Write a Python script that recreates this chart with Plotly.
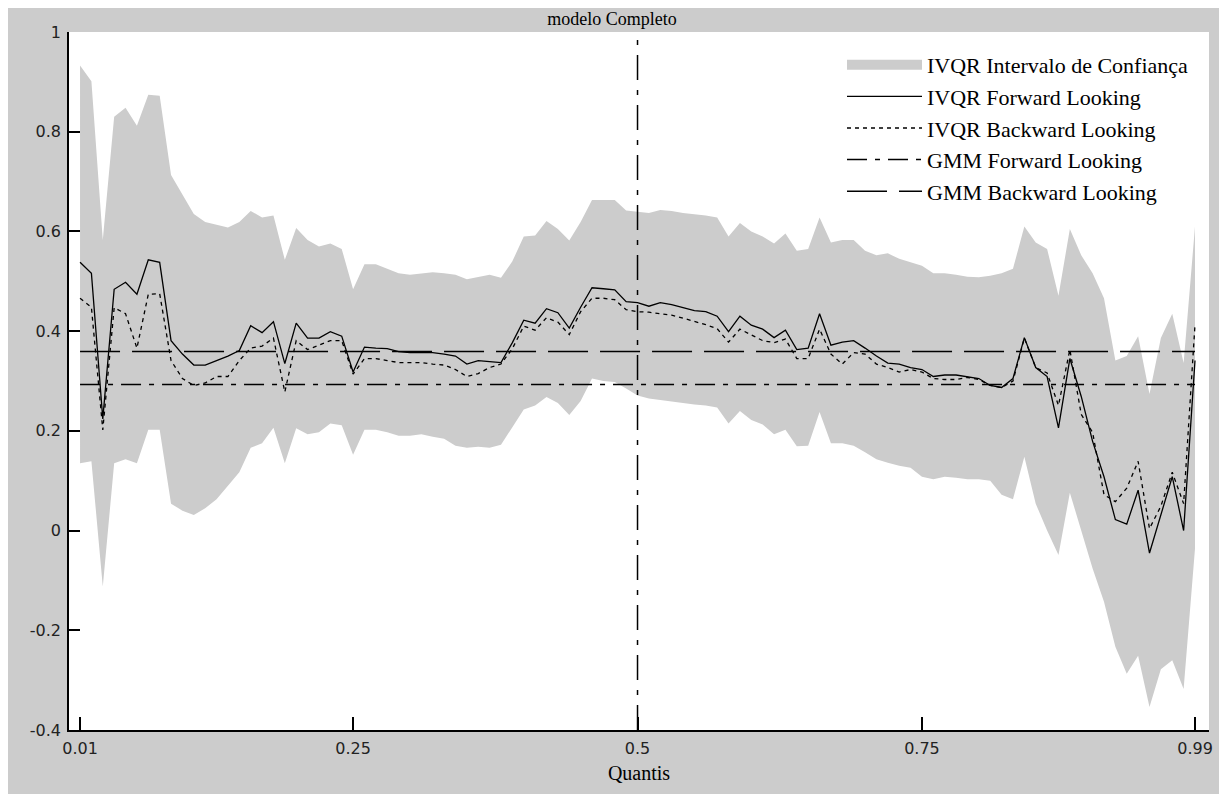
import plotly.graph_objects as go

quantis = [round(0.01 * i, 2) for i in range(1, 100)]

ic_superior = [
    0.933, 0.901, 0.583, 0.830, 0.848, 0.812, 0.874, 0.872, 0.713, 0.673,
    0.635, 0.619, 0.613, 0.608, 0.619, 0.641, 0.628, 0.632, 0.543, 0.607,
    0.583, 0.570, 0.576, 0.565, 0.484, 0.534, 0.534, 0.525, 0.516, 0.513,
    0.516, 0.518, 0.516, 0.513, 0.504, 0.509, 0.513, 0.507, 0.540, 0.590,
    0.592, 0.621, 0.605, 0.582, 0.619, 0.663, 0.663, 0.663, 0.642, 0.639,
    0.637, 0.643, 0.641, 0.637, 0.635, 0.632, 0.628, 0.590, 0.617, 0.600,
    0.590, 0.576, 0.596, 0.561, 0.565, 0.628, 0.578, 0.583, 0.583, 0.561,
    0.552, 0.556, 0.545, 0.538, 0.531, 0.516, 0.516, 0.513, 0.509, 0.508,
    0.511, 0.516, 0.525, 0.610, 0.578, 0.565, 0.471, 0.605, 0.552, 0.516,
    0.466, 0.341, 0.350, 0.390, 0.274, 0.386, 0.435, 0.336, 0.610,
]

ic_inferior = [
    0.135, 0.139, -0.112, 0.135, 0.143, 0.135, 0.202, 0.202, 0.054, 0.040,
    0.031, 0.045, 0.063, 0.090, 0.117, 0.166, 0.175, 0.206, 0.135, 0.205,
    0.193, 0.197, 0.215, 0.211, 0.152, 0.202, 0.202, 0.197, 0.190, 0.190,
    0.193, 0.188, 0.184, 0.170, 0.166, 0.168, 0.166, 0.172, 0.208, 0.243,
    0.251, 0.268, 0.256, 0.232, 0.260, 0.305, 0.300, 0.298, 0.285, 0.271,
    0.265, 0.262, 0.258, 0.256, 0.253, 0.251, 0.247, 0.215, 0.240, 0.222,
    0.213, 0.193, 0.202, 0.169, 0.170, 0.238, 0.175, 0.175, 0.170, 0.157,
    0.143, 0.136, 0.130, 0.126, 0.108, 0.103, 0.108, 0.106, 0.103, 0.103,
    0.100, 0.072, 0.063, 0.148, 0.054, 0.000, -0.049, 0.076, 0.000, -0.076,
    -0.143, -0.233, -0.287, -0.251, -0.354, -0.278, -0.260, -0.318, -0.036,
]

ivqr_forward = [
    0.538, 0.516, 0.224, 0.484, 0.498, 0.474, 0.543, 0.538, 0.381, 0.354,
    0.332, 0.332, 0.341, 0.350, 0.361, 0.411, 0.397, 0.419, 0.335, 0.416,
    0.386, 0.386, 0.399, 0.390, 0.318, 0.368, 0.366, 0.365, 0.359, 0.357,
    0.357, 0.357, 0.354, 0.350, 0.334, 0.341, 0.339, 0.337, 0.377, 0.422,
    0.416, 0.445, 0.437, 0.406, 0.448, 0.487, 0.485, 0.483, 0.459, 0.457,
    0.450, 0.457, 0.453, 0.447, 0.441, 0.439, 0.430, 0.399, 0.430, 0.412,
    0.404, 0.387, 0.402, 0.363, 0.366, 0.435, 0.372, 0.378, 0.381, 0.366,
    0.350, 0.336, 0.334, 0.327, 0.323, 0.309, 0.312, 0.312, 0.309, 0.305,
    0.291, 0.287, 0.305, 0.387, 0.327, 0.309, 0.206, 0.345, 0.269, 0.179,
    0.108, 0.022, 0.013, 0.081, -0.045, 0.031, 0.108, 0.000, 0.341,
]

ivqr_backward = [
    0.466, 0.448, 0.202, 0.447, 0.435, 0.366, 0.474, 0.475, 0.341, 0.305,
    0.291, 0.296, 0.309, 0.309, 0.341, 0.366, 0.370, 0.386, 0.278, 0.381,
    0.363, 0.372, 0.381, 0.381, 0.314, 0.345, 0.345, 0.341, 0.337, 0.337,
    0.337, 0.334, 0.332, 0.323, 0.309, 0.315, 0.327, 0.334, 0.365, 0.410,
    0.402, 0.427, 0.418, 0.393, 0.439, 0.466, 0.466, 0.463, 0.443, 0.439,
    0.438, 0.435, 0.432, 0.426, 0.420, 0.413, 0.405, 0.378, 0.404, 0.392,
    0.381, 0.377, 0.384, 0.345, 0.345, 0.404, 0.354, 0.334, 0.357, 0.354,
    0.334, 0.327, 0.318, 0.323, 0.318, 0.305, 0.303, 0.303, 0.307, 0.303,
    0.291, 0.287, 0.300, 0.386, 0.327, 0.316, 0.251, 0.363, 0.233, 0.197,
    0.072, 0.058, 0.085, 0.139, 0.004, 0.049, 0.117, 0.054, 0.413,
]

gmm_forward = 0.293
gmm_backward = 0.359
mediana = 0.5

x_ticks = [0.01, 0.25, 0.5, 0.75, 0.99]
x_ticktext = ["0.01", "0.25", "0.5", "0.75", "0.99"]
y_ticks = [-0.4, -0.2, 0, 0.2, 0.4, 0.6, 0.8, 1]
y_ticktext = ["-0.4", "-0.2", "0", "0.2", "0.4", "0.6", "0.8", "1"]

BAND = "#cccccc"
SERIF = "Liberation Serif, Times New Roman, serif"
SANS = "DejaVu Sans, Verdana, sans-serif"

# page body has an 8px margin, so the figure sits at (8, 8) in the window
W, H = 1219, 786
ML, MR, MT, MB = 61, 18, 24, 64
PW, PH = W - ML - MR, H - MT - MB

fig = go.Figure()
fig.add_trace(go.Scatter(x=quantis, y=ic_inferior, mode="lines",
                         line=dict(width=0, color=BAND), showlegend=False,
                         hoverinfo="skip"))
fig.add_trace(go.Scatter(x=quantis, y=ic_superior, mode="lines", fill="tonexty",
                         fillcolor=BAND, line=dict(width=0, color=BAND),
                         name="IVQR Intervalo de Confiança", showlegend=False,
                         legendgroup="ic"))
# legend swatch for the confidence band (no data points)
fig.add_trace(go.Scatter(x=[None], y=[None], mode="lines",
                         line=dict(width=20, color=BAND),
                         name="IVQR Intervalo de Confiança", legendgroup="ic"))
fig.add_trace(go.Scatter(x=quantis, y=ivqr_forward, mode="lines",
                         line=dict(color="black", width=1.3),
                         name="IVQR Forward Looking"))
fig.add_trace(go.Scatter(x=quantis, y=ivqr_backward, mode="lines",
                         line=dict(color="black", width=1.3, dash="4px,4px"),
                         name="IVQR Backward Looking"))
fig.add_trace(go.Scatter(x=quantis, y=[gmm_forward] * len(quantis), mode="lines",
                         line=dict(color="black", width=1.5, dash="20px,8px,5px,8px"),
                         name="GMM Forward Looking"))
fig.add_trace(go.Scatter(x=quantis, y=[gmm_backward] * len(quantis), mode="lines",
                         line=dict(color="black", width=1.5, dash="40px,12px"),
                         name="GMM Backward Looking"))

fig.add_vline(x=mediana, line=dict(color="black", width=1.5, dash="25px,10px,5px,10px"))

fig.update_layout(
    width=W, height=H,
    margin=dict(l=ML, r=MR, t=MT, b=MB, pad=0),
    paper_bgcolor=BAND, plot_bgcolor="white",
    title=dict(text="modelo Completo", x=604 / W, xanchor="center",
               yref="container", y=1 - 11 / H, yanchor="middle", pad=dict(t=0, b=0),
               font=dict(family=SERIF, size=18, color="black")),
    showlegend=True,
    legend=dict(x=(834 - ML) / PW, xanchor="left", y=(H - MB - 36) / PH, yanchor="top",
                bgcolor="white", borderwidth=0, itemwidth=75, traceorder="normal",
                font=dict(family=SERIF, size=22, color="black")),
    xaxis=dict(range=[0.0003, 1.0023], tickvals=x_ticks, ticktext=x_ticktext,
               ticks="inside", ticklen=13, tickwidth=1.5, tickcolor="black",
               showline=True, linecolor="black", linewidth=1.5,
               showgrid=False, zeroline=False, ticklabelstandoff=3,
               tickfont=dict(family=SANS, size=16, color="#222"),
               title=dict(text="Quantis", standoff=9,
                          font=dict(family=SERIF, size=20, color="black"))),
    yaxis=dict(range=[-0.4, 1.0], tickvals=y_ticks, ticktext=y_ticktext,
               ticks="inside", ticklen=11, tickwidth=1.5, tickcolor="black",
               showline=True, linecolor="black", linewidth=1.5,
               showgrid=False, zeroline=False, ticklabelstandoff=3,
               tickfont=dict(family=SANS, size=16, color="#222")),
)

fig.write_html("out.html")
